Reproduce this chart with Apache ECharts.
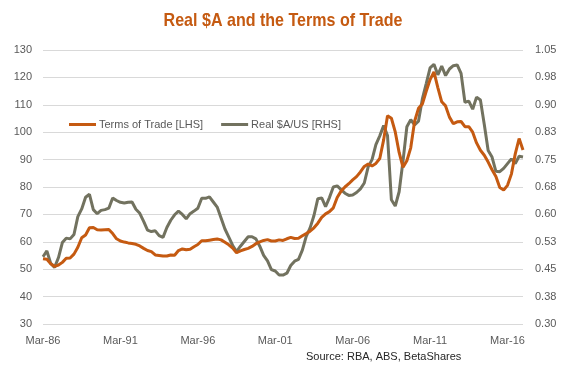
<!DOCTYPE html>
<html>
<head>
<meta charset="utf-8">
<script src="https://cdn.jsdelivr.net/npm/echarts@6/dist/echarts.min.js"></script>
<style>
html,body{margin:0;padding:0;background:#fff;}
#chart{width:567px;height:378px;}
</style>
</head>
<body>
<div id="chart"></div>
<script>
// Quarterly categories, Mar-86 .. Mar-17
var months = ['Mar','Jun','Sep','Dec'];
var categories = [];
for (var y = 1986; y <= 2017; y++) {
  for (var q = 0; q < 4; q++) {
    if (y === 2017 && q > 0) break;
    categories.push(months[q] + '-' + String(y).slice(2));
  }
}

var termsOfTrade = [
  53.8,53.6,52.0,51.0,51.5,52.5,54.0,54.1,55.5,58.0,
  61.5,62.5,65.1,65.2,64.4,64.3,64.4,64.5,63.0,61.1,
  60.3,59.9,59.6,59.4,59.1,58.5,57.6,56.8,56.4,55.2,
  55.0,54.8,54.8,55.2,55.1,56.8,57.4,57.1,57.3,58.2,
  59.0,60.4,60.4,60.6,60.8,61.0,60.7,59.8,58.9,57.7,
  56.0,56.7,57.2,57.6,58.3,59.3,60.0,60.5,60.8,60.3,
  60.3,60.7,60.5,61.1,61.6,61.2,61.3,62.2,63.0,63.9,
  65.1,66.8,68.9,70.2,71.0,72.4,76.2,78.5,80.0,81.2,
  82.6,83.8,85.5,87.5,88.4,87.7,88.6,90.4,97.2,106.0,
  105.1,100.1,92.6,87.2,89.6,94.3,104.0,108.7,110.3,114.9,
  119.2,122.0,116.3,111.1,109.6,105.5,103.1,103.8,103.9,102.0,
  102.0,100.0,96.1,93.4,91.6,89.1,86.3,83.8,79.8,78.9,
  80.6,84.7,92.1,97.7,93.5
];

var realAUD = [
  0.484,0.500,0.466,0.455,0.482,0.523,0.535,0.533,0.545,0.594,
  0.615,0.647,0.655,0.613,0.602,0.611,0.613,0.617,0.645,0.638,
  0.633,0.631,0.633,0.634,0.614,0.603,0.581,0.557,0.553,0.555,
  0.542,0.537,0.564,0.584,0.599,0.609,0.600,0.588,0.602,0.609,
  0.617,0.644,0.644,0.648,0.634,0.620,0.590,0.560,0.538,0.515,
  0.498,0.513,0.526,0.539,0.539,0.533,0.513,0.488,0.473,0.449,
  0.445,0.434,0.434,0.439,0.460,0.472,0.477,0.502,0.540,0.563,
  0.597,0.643,0.645,0.621,0.646,0.675,0.678,0.668,0.658,0.652,
  0.653,0.660,0.670,0.686,0.730,0.750,0.791,0.815,0.843,0.816,
  0.640,0.623,0.662,0.746,0.840,0.859,0.845,0.855,0.916,0.958,
  1.001,1.011,0.982,1.006,0.980,0.998,1.007,1.009,0.986,0.907,
  0.910,0.888,0.921,0.913,0.846,0.775,0.757,0.718,0.717,0.726,
  0.739,0.752,0.739,0.759,0.757
];

var rightTickLabels = ['0.30','0.38','0.45','0.53','0.60','0.68','0.75','0.83','0.90','0.98','1.05'];

var ORANGE = '#C55A11';
var GREY = '#72725F';
var labelFont = '"Liberation Sans Narrow", "Arial Narrow", "Liberation Sans", sans-serif';

var chart = echarts.init(document.getElementById('chart'), null, {renderer: 'canvas'});
chart.setOption({
  animation: false,
  backgroundColor: '#ffffff',
  legend: {
    left: 64,
    top: 114,
    icon: 'rect',
    itemWidth: 27,
    itemHeight: 3,
    itemGap: 18,
    textStyle: {color: '#595959', fontFamily: labelFont, fontSize: 11, padding: [0,0,0,-2]},
    data: ['Terms of Trade [LHS]', 'Real $A/US [RHS]']
  },
  grid: {left: 43, right: 44, top: 50, bottom: 54, containLabel: false},
  xAxis: {
    type: 'category',
    data: categories,
    boundaryGap: false,
    axisLine: {show: false},
    axisTick: {show: false},
    axisLabel: {interval: 19, color: '#595959', fontFamily: labelFont, fontSize: 11, margin: 11}
  },
  yAxis: [
    {
      type: 'value', min: 30, max: 130, interval: 10,
      axisLine: {show: false}, axisTick: {show: false},
      splitLine: {lineStyle: {color: '#D9D9D9', width: 1}},
      axisLabel: {color: '#595959', fontFamily: labelFont, fontSize: 11, margin: 11}
    },
    {
      type: 'value', min: 0.30, max: 1.05, interval: 0.075,
      axisLine: {show: false}, axisTick: {show: false},
      splitLine: {show: false},
      axisLabel: {
        color: '#595959', fontFamily: labelFont, fontSize: 11, margin: 12,
        formatter: function (v) { return rightTickLabels[Math.round((v - 0.30) / 0.075)]; }
      }
    }
  ],
  series: [
    {
      name: 'Terms of Trade [LHS]', type: 'line', yAxisIndex: 0,
      data: termsOfTrade, showSymbol: false, symbol: 'none',
      lineStyle: {color: ORANGE, width: 3}, itemStyle: {color: ORANGE}, z: 3
    },
    {
      name: 'Real $A/US [RHS]', type: 'line', yAxisIndex: 1,
      data: realAUD, showSymbol: false, symbol: 'none',
      lineStyle: {color: GREY, width: 3}, itemStyle: {color: GREY}, z: 2
    }
  ],
  graphic: [
    {
      type: 'text', x: 283, y: 21, scaleX: 0.845,
      style: {
        text: 'Real $A and the Terms of Trade', fill: ORANGE,
        font: 'bold 19px ' + labelFont, textAlign: 'center', textVerticalAlign: 'middle'
      }
    },
    {
      type: 'text', left: 306, top: 351,
      style: {text: 'Source: RBA, ABS, BetaShares', fill: '#262626', font: '11px ' + labelFont}
    }
  ]
});
</script>
</body>
</html>
